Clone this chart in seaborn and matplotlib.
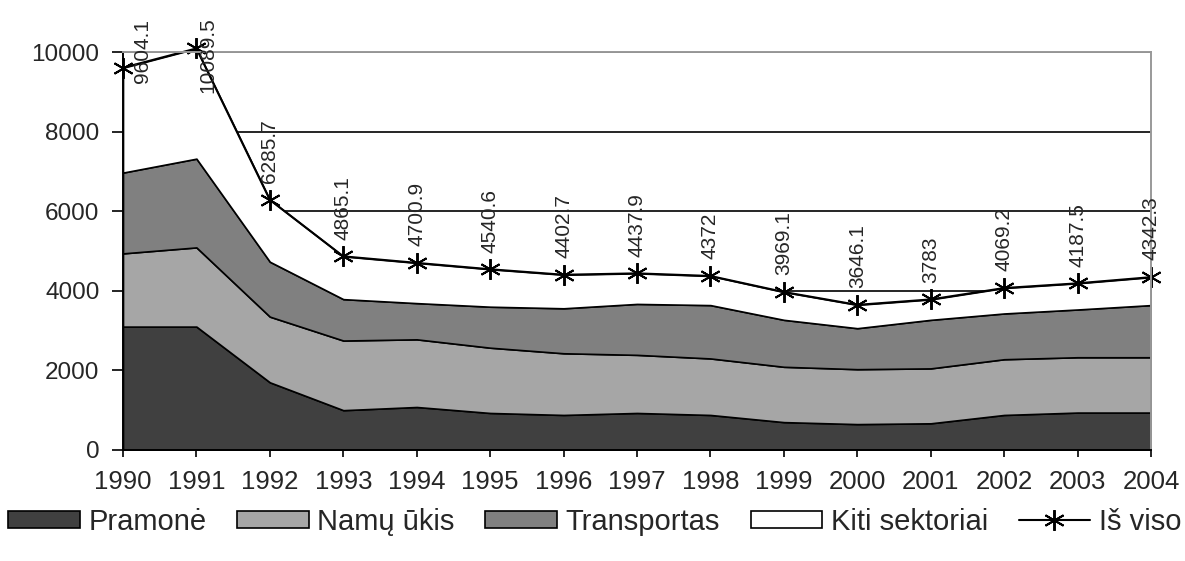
import matplotlib
matplotlib.use("Agg")
import matplotlib.pyplot as plt
import seaborn as sns
from matplotlib.lines import Line2D
from matplotlib.patches import Patch

years = [1990, 1991, 1992, 1993, 1994, 1995, 1996, 1997, 1998, 1999, 2000, 2001, 2002, 2003, 2004]
pramone = [3100, 3100, 1700, 1000, 1080, 930, 880, 930, 880, 700, 650, 670, 880, 940, 940]
namu_ukis = [1840, 1990, 1650, 1750, 1700, 1640, 1550, 1460, 1420, 1390, 1380, 1380, 1400, 1390, 1390]
transportas = [2030, 2230, 1380, 1040, 910, 1030, 1130, 1280, 1340, 1180, 1030, 1220, 1150, 1200, 1310]
kiti = [2634, 2770, 1556, 1075, 1011, 941, 843, 768, 732, 699, 586, 513, 639, 658, 702]
is_viso = [9604.1, 10089.5, 6285.7, 4865.1, 4700.9, 4540.6, 4402.7, 4437.9, 4372, 3969.1, 3646.1, 3783, 4069.2, 4187.5, 4342.3]

labels = ["Pramonė", "Namų ūkis", "Transportas", "Kiti sektoriai", "Iš viso"]
colors = ["#404040", "#a6a6a6", "#808080", "#ffffff"]

sns.set_style("white")
plt.rcParams["font.family"] = ["Liberation Sans", "DejaVu Sans"]

fig = plt.figure(figsize=(11.85, 5.61), dpi=100)
ax = fig.add_axes([0.1038, 0.1979, 0.8675, 0.7094])

ax.stackplot(years, pramone, namu_ukis, transportas, kiti, colors=colors,
             edgecolor="black", linewidth=1.2)

star = (6, 2, 0)
sns.lineplot(x=years, y=is_viso, ax=ax, color="black", lw=1.5, marker=star,
             markersize=15, markeredgewidth=1.4, markeredgecolor="black", clip_on=False)
if ax.get_legend() is not None:
    ax.get_legend().remove()

# data labels, the first two are pushed down so they stay in the picture
offsets = {0: (14, -11), 1: (8, -32)}
for i, (x, v) in enumerate(zip(years, is_viso)):
    dx, dy = offsets.get(i, (0, 12))
    ax.annotate(f"{v:g}", (x, v), xytext=(dx, dy), textcoords="offset points",
                rotation=90, ha="center", va="bottom", fontsize=15, annotation_clip=False)

ax.set_xlim(1990, 2004)
ax.set_ylim(0, 10000)
ax.set_xticks(years)
ax.set_yticks(range(0, 10001, 2000))
ax.tick_params(axis="x", labelsize=18.5, length=5, width=1.2, pad=9.5, color="black", bottom=True)
ax.tick_params(axis="y", labelsize=17.5, length=8, width=1.2, pad=9, color="black", left=True)
ax.yaxis.grid(True, color="black", lw=1.2)
ax.set_axisbelow(True)

for s in ["left", "bottom"]:
    ax.spines[s].set_color("black")
    ax.spines[s].set_linewidth(1.4)
for s in ["top", "right"]:
    ax.spines[s].set_color("#999999")
    ax.spines[s].set_linewidth(1.4)

handles = [Patch(facecolor=c, edgecolor="black", linewidth=1.2) for c in colors]
handles.append(Line2D([], [], color="black", lw=1.5, marker=star, markersize=15, markeredgewidth=1.4))
fig.legend(handles, labels, loc="center", bbox_to_anchor=(0.502, 0.07), ncol=5,
           frameon=False, fontsize=21, handlelength=2.45, handleheight=0.55,
           handletextpad=0.3, columnspacing=1.05, borderpad=0, borderaxespad=0)

plt.savefig("out.png", dpi=100)
